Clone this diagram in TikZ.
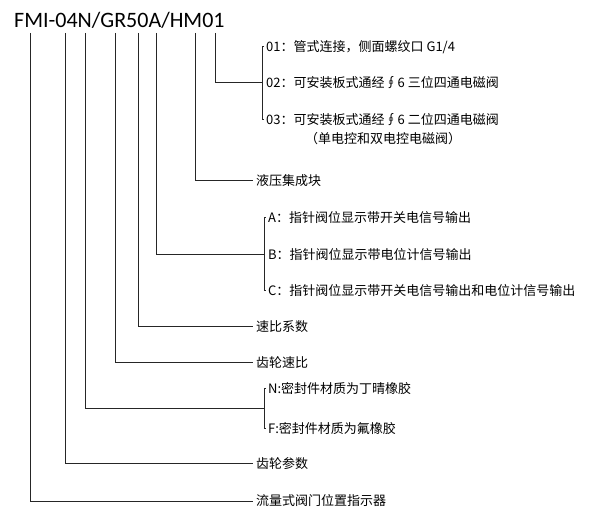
\documentclass[tikz,border=0pt]{standalone}
\usepackage{fontspec}
\setmainfont{Carlito}
\newfontfamily\cjk{Noto Sans CJK SC}
\usetikzlibrary{positioning}
\tikzset{
    lead/.style={line width=1pt, black!85},
    item/.style={anchor=west, inner sep=0pt, font=\cjk\fontsize{13}{15}\selectfont},
    brace/.style={lead}
}
\begin{document}
\begin{tikzpicture}[x=1pt, y=-1pt]
        \useasboundingbox (0,0) rectangle (600,510);
        \node[anchor=west, inner sep=0pt, font=\fontsize{22}{26}\selectfont] (code) at (14,20) {FMI-04N/GR50A/HM01};

        % tops of the leads
        \coordinate (t1) at (30,33);
        \coordinate (t2) at (65,33);
        \coordinate (t3) at (85,33);
        \coordinate (t4) at (115,33);
        \coordinate (t5) at (138,33);
        \coordinate (t6) at (156,33);
        \coordinate (t7) at (195,33);
        \coordinate (t8) at (215,33);

        % labels
        \node[item] (h1) at (266,47) {01：管式连接，侧面螺纹口 G1/4};
        \node[item] (h2) at (266,83) {02：可安装板式通经∮6 三位四通电磁阀};
        \node[item] (h3) at (266,120) {03：可安装板式通经∮6 二位四通电磁阀};
        \node[item] (h4) at (305,139) {（单电控和双电控电磁阀）};
        \node[item] (blk) at (256,181) {液压集成块};
        \node[item] (a1) at (268,218) {A：指针阀位显示带开关电信号输出};
        \node[item] (a2) at (268,255) {B：指针阀位显示带电位计信号输出};
        \node[item] (a3) at (268,291) {C：指针阀位显示带开关电信号输出和电位计信号输出};
        \node[item] (ratio) at (256,327) {速比系数};
        \node[item] (gear) at (256,363) {齿轮速比};
        \node[item] (s1) at (268,389) {N:密封件材质为丁晴橡胶};
        \node[item] (s2) at (268,429) {F:密封件材质为氟橡胶};
        \node[item] (para) at (256,464) {齿轮参数};
        \node[item] (flow) at (256,501) {流量式阀门位置指示器};

        % brackets
        \draw[brace] ([xshift=-2pt]h1.west) -| (262,120) -- ([xshift=-2pt]h3.west);
        \draw[brace] ([xshift=-2pt]a1.west) -| (264,291) -- ([xshift=-2pt]a3.west);
        \draw[brace] ([xshift=-2pt]s1.west) -| (264,429) -- ([xshift=-2pt]s2.west);

        % leads
        \draw[lead] (t8) |- (262,83);
        \draw[lead] (t7) |- ([xshift=-3pt]blk.west);
        \draw[lead] (t6) |- (264,255);
        \draw[lead] (t5) |- ([xshift=-3pt]ratio.west);
        \draw[lead] (t4) |- ([xshift=-3pt]gear.west);
        \draw[lead] (t3) |- (264,409);
        \draw[lead] (t2) |- ([xshift=-3pt]para.west);
        \draw[lead] (t1) |- ([xshift=-3pt]flow.west);
    \end{tikzpicture}
\end{document}
